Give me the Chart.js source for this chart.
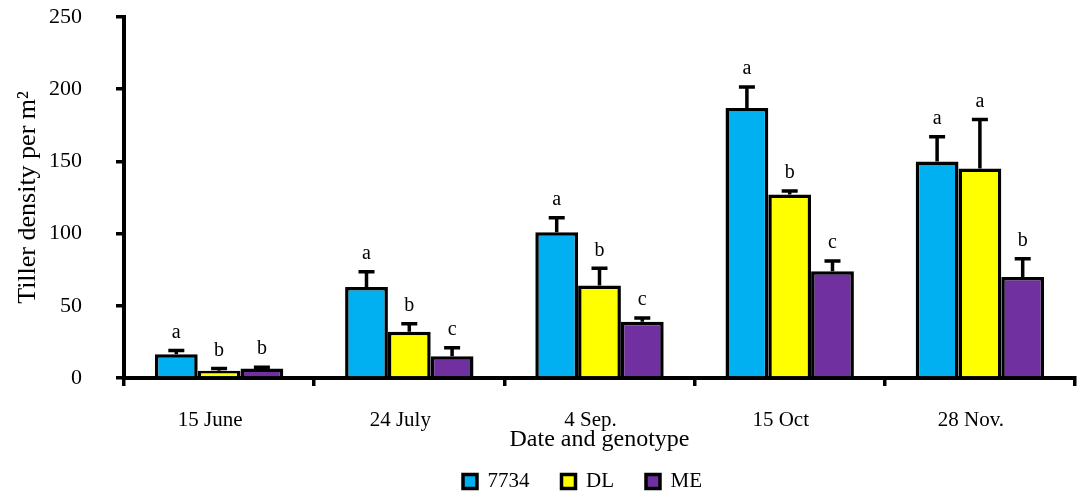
<!DOCTYPE html>
<html>
<head>
<meta charset="utf-8">
<script src="https://cdn.jsdelivr.net/npm/chart.js@4.4.1/dist/chart.umd.min.js"></script>
<style>
html,body{margin:0;padding:0;background:#fff;}
#wrap{width:1078px;height:496px;}
</style>
</head>
<body>
<div id="wrap"><canvas id="c" width="1078" height="496"></canvas></div>
<script>
const categories = ["15 June", "24 July", "4 Sep.", "15 Oct", "28 Nov."];
const seriesNames = ["7734", "DL", "ME"];
const values7734 = [16.5, 63, 101, 187, 150];
const valuesDL = [5, 32, 64, 127, 145];
const valuesME = [6.5, 15, 39, 74, 70];
const err7734 = [2.5, 10.5, 10, 14.5, 17];
const errDL = [1.5, 5.5, 12, 2.5, 34];
const errME = [1, 6, 2.5, 7, 12.5];
const letters7734 = ["a", "a", "a", "a", "a"];
const lettersDL = ["b", "b", "b", "b", "a"];
const lettersME = ["b", "c", "c", "c", "b"];
const yTicks = [0, 50, 100, 150, 200, 250];

const colors = ["#00B0F0", "#FFFF00", "#7030A0"];
const allValues = [values7734, valuesDL, valuesME];
const allErr = [err7734, errDL, errME];
const allLetters = [letters7734, lettersDL, lettersME];
const FONT = "'Liberation Serif', 'Times New Roman', serif";

const errPlugin = {
  id: 'errbars',
  afterLayout(chart) {
    if (chart.legend) { chart.legend.left -= 17; chart.legend.right -= 17; }
  },
  afterDatasetsDraw(chart) {
    const ctx = chart.ctx;
    const y = chart.scales.y;
    chart.data.datasets.forEach((ds, di) => {
      const meta = chart.getDatasetMeta(di);
      meta.data.forEach((bar, i) => {
        const v = ds.data[i];
        const top = y.getPixelForValue(v + allErr[di][i]);
        ctx.save();
        ctx.strokeStyle = '#000';
        ctx.lineWidth = 3.5;
        ctx.beginPath();
        ctx.moveTo(bar.x, bar.y);
        ctx.lineTo(bar.x, top);
        ctx.moveTo(bar.x - 8, top);
        ctx.lineTo(bar.x + 8, top);
        ctx.stroke();
        ctx.fillStyle = '#000';
        ctx.font = "20px " + FONT;
        ctx.textAlign = 'center';
        ctx.textBaseline = 'middle';
        ctx.fillText(allLetters[di][i], bar.x, top - 18);
        ctx.restore();
      });
    });
  }
};

new Chart(document.getElementById('c'), {
  type: 'bar',
  data: {
    labels: categories,
    datasets: seriesNames.map((n, k) => ({
      label: n,
      data: allValues[k],
      backgroundColor: colors[k],
      borderColor: '#000',
      borderWidth: 3.5,
      barPercentage: 1.0,
      categoryPercentage: 0.675
    }))
  },
  options: {
    responsive: false,
    animation: false,
    devicePixelRatio: 1,
    layout: { padding: { left: 0, right: 3, top: 0, bottom: 0 } },
    plugins: {
      legend: {
        position: 'bottom',
        fullSize: false,
        maxHeight: 57,
        labels: {
          font: { family: FONT, size: 21 },
          color: '#000',
          boxWidth: 14,
          boxHeight: 14,
          padding: 32
        }
      },
      tooltip: { enabled: false }
    },
    scales: {
      x: {
        grid: { display: true, offset: true, drawOnChartArea: false, drawTicks: true, tickLength: 8, color: '#000', lineWidth: 3.5 },
        border: { display: true, color: '#000', width: 4 },
        ticks: { color: '#000', font: { family: FONT, size: 21 }, padding: 22, labelOffset: -9 },
        title: { display: true, text: 'Date and genotype', color: '#000', font: { family: FONT, size: 24 }, padding: { top: 0, bottom: -15 } },
        afterFit(s) { s.height = 61; }
      },
      y: {
        min: 0, max: 250,
        afterBuildTicks(s) { s.ticks = yTicks.map(v => ({ value: v })); },
        grid: { display: true, drawOnChartArea: false, drawTicks: true, tickLength: 8, color: '#000', lineWidth: 3.5 },
        border: { display: true, color: '#000', width: 4 },
        ticks: { color: '#000', font: { family: FONT, size: 22 }, padding: 34 },
        title: { display: true, text: 'Tiller density per m\u00B2', color: '#000', font: { family: FONT, size: 26 }, padding: { top: 13, bottom: 0 } },
        afterFit(s) { s.width = 124; s.paddingTop = 17; s.paddingBottom = 0; }
      }
    }
  },
  plugins: [errPlugin]
});
</script>
</body>
</html>
